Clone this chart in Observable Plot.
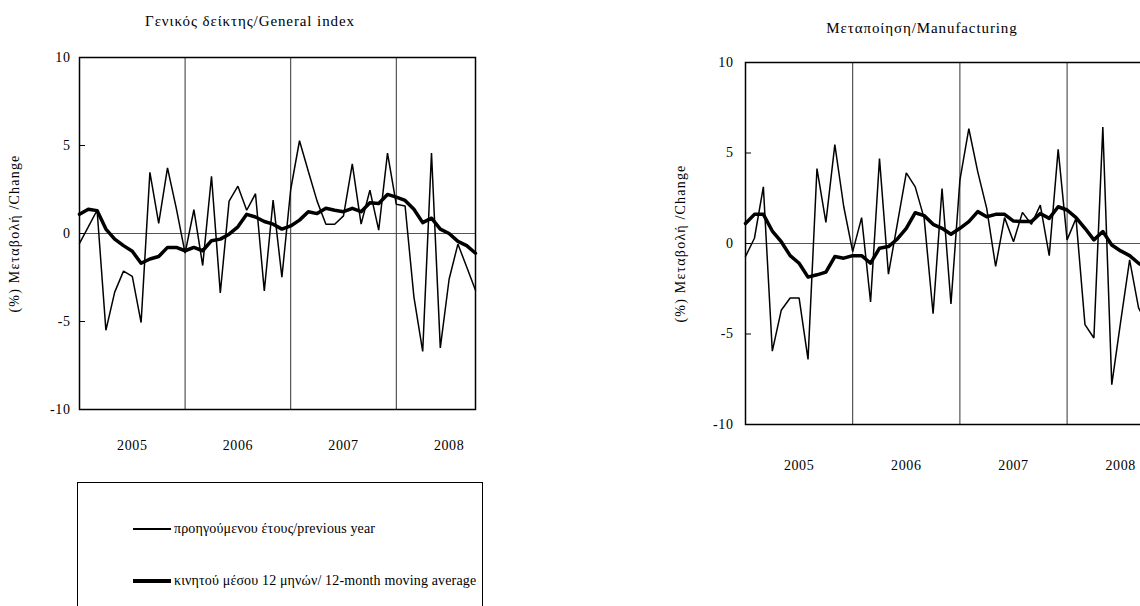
<!DOCTYPE html>
<html>
<head>
<meta charset="utf-8">
<script src="https://cdn.jsdelivr.net/npm/d3@7"></script>
<script src="https://cdn.jsdelivr.net/npm/@observablehq/plot@0.6"></script>
<style>
html, body { margin:0; padding:0; background:#fff; overflow:hidden; width:1140px; height:606px; }
body { position:relative; font-family:"Liberation Serif","Times New Roman",serif; color:#000; }
.panel { position:absolute; top:0; }
.panel svg { max-width:none !important; height:auto; }
.panel svg text { letter-spacing:0.6px; }
.panel svg [aria-label="y-axis label"] text { letter-spacing:1.2px; }
.title { position:absolute; font-size:15px; white-space:nowrap; transform:translateX(-50%); letter-spacing:0.9px; }
#legend { position:absolute; left:77px; top:482px; width:406px; height:140px; border:1px solid #000; box-sizing:border-box; }
.lg { position:absolute; left:0; display:flex; align-items:center; font-size:14px; white-space:nowrap; letter-spacing:0.15px; }
.sw { display:inline-block; width:38px; background:#000; margin-left:55px; margin-right:3px; }
</style>
</head>
<body>
<div class="title" style="left:250px; top:13px;">Γενικός δείκτης/General index</div>
<div class="title" style="left:922px; top:20px;">Μεταποίηση/Manufacturing</div>
<div id="left" class="panel" style="left:0px; width:500px;"></div>
<div id="right" class="panel" style="left:640px; width:520px;"></div>
<div id="legend">
  <div class="lg" style="top:38px;"><span class="sw" style="height:1.5px;"></span>προηγούμενου έτους/previous year</div>
  <div class="lg" style="top:90px;"><span class="sw" style="height:3.5px;"></span>κινητού μέσου 12 μηνών/ 12-month moving average</div>
</div>
<script>
// Years shown on the category axis (monthly data Jan 2005 – Oct 2008)
const years = ["2005", "2006", "2007", "2008"];
const yTicks = [-10, -5, 0, 5, 10];
const yLabel = "(%) Μεταβολή /Change";

// General index: % change over previous year
const generalYoY = [-0.56, 0.38, 1.32, -5.5, -3.33, -2.14, -2.44, -5.06, 3.48, 0.57, 3.73, 1.43,
  -1.12, 1.35, -1.82, 3.25, -3.38, 1.84, 2.69, 1.32, 2.26, -3.27, 1.90, -2.48,
  2.50, 5.27, 3.54, 1.84, 0.53, 0.53, 1.0, 3.95, 0.53, 2.46, 0.19, 4.57,
  1.66, 1.56, -3.6, -6.7, 4.57, -6.5, -2.6, -0.6, -1.9, -3.23];
// General index: 12-month moving average
const generalMA = [1.09, 1.38, 1.3, 0.25, -0.32, -0.69, -1.01, -1.69, -1.45, -1.31, -0.79, -0.79,
  -0.98, -0.79, -0.98, -0.41, -0.32, -0.04, 0.38, 1.09, 0.94, 0.68, 0.53, 0.25,
  0.43, 0.76, 1.24, 1.13, 1.43, 1.32, 1.24, 1.43, 1.24, 1.75, 1.7, 2.22,
  2.07, 1.88, 1.38, 0.62, 0.87, 0.25, 0.0, -0.45, -0.69, -1.12];

// Manufacturing: % change over previous year
const manufYoY = [-0.72, 0.29, 3.13, -5.95, -3.69, -3.01, -3.01, -6.4, 4.14, 1.17, 5.46, 2.03,
  -0.45, 1.43, -3.23, 4.69, -1.69, 1.1, 3.9, 3.13, 1.39, -3.88, 3.04, -3.34,
  3.5, 6.34, 3.96, 1.94, -1.27, 1.43, 0.1, 1.72, 1.06, 2.12, -0.67, 5.2,
  0.2, 1.39, -4.48, -5.22, 6.43, -7.8, -4.3, -0.9, -3.56, -4.5];
// Manufacturing: 12-month moving average
const manufMA = [1.11, 1.61, 1.61, 0.69, 0.1, -0.67, -1.09, -1.86, -1.73, -1.58, -0.72, -0.81,
  -0.67, -0.67, -1.09, -0.26, -0.17, 0.25, 0.84, 1.7, 1.54, 1.06, 0.84, 0.51,
  0.84, 1.21, 1.76, 1.48, 1.61, 1.61, 1.24, 1.21, 1.21, 1.66, 1.39, 2.03,
  1.85, 1.43, 0.84, 0.2, 0.66, -0.08, -0.41, -0.67, -1.09, -1.4];

function panel(yoy, ma, o) {
  const d1 = yoy.map((v, i) => ({i, v}));
  const d2 = ma.map((v, i) => ({i, v}));
  const n = yoy.length - 1;
  const plotW = o.width - o.ml - o.mr;
  return Plot.plot({
    width: o.width, height: o.height,
    marginLeft: o.ml, marginRight: o.mr, marginTop: o.mt, marginBottom: o.mb,
    style: {fontFamily: '"Liberation Serif","Times New Roman",serif', fontSize: "14px", background: "transparent", color: "#000", overflow: "visible"},
    x: {domain: [0, n], axis: null},
    y: {domain: [-10, 10], axis: null},
    marks: [
      Plot.ruleY([0], {stroke: "#555", strokeWidth: 1}),
      Plot.ruleX(years.slice(1).map((y, j) => (j + 1) * 12), {stroke: "#333", strokeWidth: 1}),
      // inward tick marks on the value axis
      Plot.ruleY(yTicks, {stroke: "#000", strokeWidth: 1, insetRight: plotW - 6}),
      Plot.axisY({ticks: yTicks, tickFormat: d => String(d), tickSize: 0, tickPadding: o.tp,
        label: yLabel, labelAnchor: "center", labelOffset: o.lo, labelArrow: "none"}),
      Plot.axisX({ticks: years.map((y, j) => j * 12 + 6), tickFormat: t => years[(t - 6) / 12],
        tickSize: 0, tickPadding: o.xp, label: null}),
      Plot.lineY(d1, {x: "i", y: "v", stroke: "#000", strokeWidth: 1.5, strokeLinejoin: "miter"}),
      Plot.lineY(d2, {x: "i", y: "v", stroke: "#000", strokeWidth: 3.5}),
      Plot.frame({stroke: "#000", strokeWidth: 1.5})
    ]
  });
}

document.getElementById("left").append(panel(generalYoY, generalMA,
  {width: 500, height: 460, ml: 79, mr: 25, mt: 57, mb: 51, tp: 9, lo: 70, xp: 31}));
document.getElementById("right").append(panel(manufYoY, manufMA,
  {width: 520, height: 470, ml: 105, mr: 13, mt: 62, mb: 46, tp: 12, lo: 70, xp: 36}));
</script>
</body>
</html>
